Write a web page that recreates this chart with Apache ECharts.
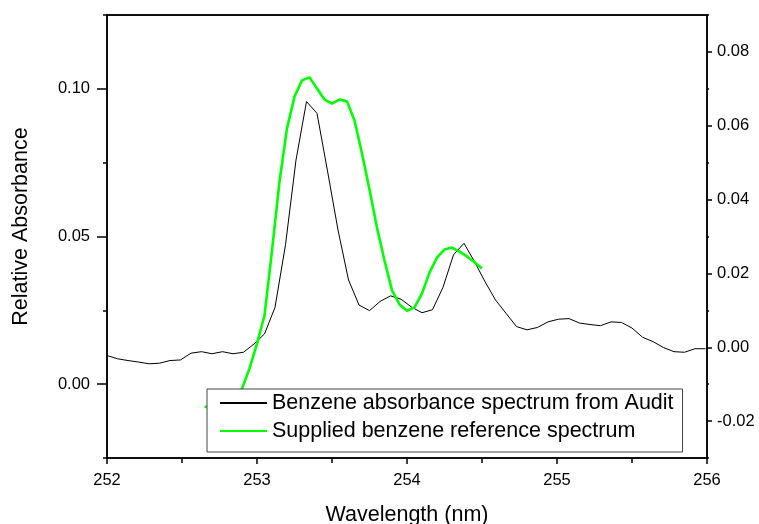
<!DOCTYPE html>
<html>
<head>
<meta charset="utf-8">
<script src="https://cdn.jsdelivr.net/npm/echarts@6.0.0/dist/echarts.min.js"></script>
<style>
  html, body { margin: 0; padding: 0; background: #fff; }
  #chart { width: 759px; height: 524px; }
</style>
</head>
<body>
<div id="chart"></div>
<script>
// Measured benzene spectrum (left axis, relative absorbance)
const auditWavelength = [
  252.00, 252.07, 252.14, 252.21, 252.28, 252.35, 252.42, 252.49, 252.56, 252.63,
  252.70, 252.77, 252.84, 252.91, 252.98, 253.05, 253.12, 253.19, 253.26, 253.33,
  253.40, 253.47, 253.54, 253.61, 253.68, 253.75, 253.82, 253.89, 253.96, 254.03,
  254.10, 254.17, 254.24, 254.31, 254.38, 254.45, 254.52, 254.59, 254.66, 254.73,
  254.80, 254.87, 254.94, 255.01, 255.08, 255.15, 255.22, 255.29, 255.36, 255.43,
  255.50, 255.57, 255.64, 255.71, 255.78, 255.85, 255.92, 255.99
];
const auditAbsorbance = [
  0.0097, 0.0086, 0.0080, 0.0075, 0.0069, 0.0071, 0.0080, 0.0082, 0.0105, 0.0110,
  0.0103, 0.0110, 0.0103, 0.0108, 0.0136, 0.0170, 0.0260, 0.0472, 0.0759, 0.0957,
  0.0917, 0.0722, 0.0522, 0.0353, 0.0268, 0.0249, 0.0280, 0.0299, 0.0288, 0.0261,
  0.0242, 0.0252, 0.0328, 0.0438, 0.0477, 0.0415, 0.0347, 0.0285, 0.0240, 0.0195,
  0.0184, 0.0192, 0.0211, 0.0220, 0.0222, 0.0207, 0.0202, 0.0198, 0.0211, 0.0209,
  0.0190, 0.0159, 0.0144, 0.0124, 0.0110, 0.0108, 0.0120, 0.0120
];

// Supplied reference spectrum (right axis)
const refWavelength = [
  252.65, 252.70, 252.75, 252.80, 252.85, 252.90, 252.95, 253.00, 253.05, 253.10,
  253.15, 253.20, 253.25, 253.30, 253.35, 253.40, 253.45, 253.50, 253.55, 253.60,
  253.65, 253.70, 253.75, 253.80, 253.85, 253.90, 253.95, 254.00, 254.05, 254.10,
  254.15, 254.20, 254.25, 254.30, 254.35, 254.40, 254.45, 254.50
];
const refAbsorbance = [
  -0.0161, -0.0163, -0.0161, -0.0150, -0.0134, -0.0112, -0.0058, 0.0010, 0.0086, 0.0262,
  0.0449, 0.0593, 0.0679, 0.0723, 0.0731, 0.0701, 0.0671, 0.0660, 0.0671, 0.0666,
  0.0614, 0.0525, 0.0427, 0.0324, 0.0235, 0.0154, 0.0116, 0.0099, 0.0108, 0.0146,
  0.0202, 0.0243, 0.0265, 0.0270, 0.0259, 0.0246, 0.0230, 0.0213
];

// Tick labels
const leftTickLabels = [0, 0.05, 0.10];
const rightTickLabels = [-0.02, 0, 0.02, 0.04, 0.06, 0.08];

const seriesNames = ['Benzene absorbance spectrum from Audit', 'Supplied benzene reference spectrum'];

const FONT = 'Liberation Sans, Arial, sans-serif';
const axisColor = '#000';
const fmt2 = v => v.toFixed(2);

const chart = echarts.init(document.getElementById('chart'), null, { renderer: 'canvas' });

chart.setOption({
  animation: false,
  backgroundColor: '#fff',
  textStyle: { fontFamily: FONT, color: '#000' },
  grid: {
    left: 107, right: 52, top: 15, bottom: 66,
    outerBoundsMode: 'none',
    containLabel: false,
    show: true, borderColor: axisColor, borderWidth: 1.5, backgroundColor: 'transparent'
  },
  legend: {
    data: seriesNames,
    orient: 'vertical',
    left: 207, top: 389,
    padding: [3, 9, 10, 12],
    itemWidth: 47, itemHeight: 14, itemGap: 6,
    backgroundColor: '#fff',
    borderColor: '#444', borderWidth: 1, borderRadius: 0,
    selectedMode: false,
    // line-only keys: hide the marker drawn in the middle of each key
    itemStyle: { opacity: 0 },
    textStyle: { fontSize: 21.5, color: '#000', fontFamily: FONT }
  },
  xAxis: [
    {
      type: 'value', min: 252, max: 256, interval: 1, position: 'bottom',
      axisLine: { show: true, onZero: false, lineStyle: { color: axisColor, width: 1.5 } },
      axisTick: { show: true, length: 6, lineStyle: { color: axisColor, width: 1.5 } },
      minorTick: { show: true, splitNumber: 2, length: 5, lineStyle: { color: axisColor, width: 1.5 } },
      splitLine: { show: false },
      axisLabel: { fontSize: 16.5, margin: 14, color: '#000', fontFamily: FONT },
      name: 'Wavelength (nm)', nameLocation: 'middle', nameGap: 46,
      nameTextStyle: { fontSize: 21.5, color: '#000', fontFamily: FONT }
    },
    {
      type: 'value', min: 252, max: 256, position: 'top',
      axisLine: { show: true, onZero: false, lineStyle: { color: axisColor, width: 1.5 } },
      axisTick: { show: false }, axisLabel: { show: false }, splitLine: { show: false }
    }
  ],
  yAxis: [
    {
      // left scale used by the measured spectrum, short ticks every 0.025
      type: 'value', position: 'left', min: -0.025, max: 0.125, interval: 0.025,
      axisLine: { show: true, onZero: false, lineStyle: { color: axisColor, width: 1.5 } },
      axisTick: { show: true, length: 4, lineStyle: { color: axisColor, width: 1.5 } },
      axisLabel: { show: false }, splitLine: { show: false }
    },
    {
      // left labels and long ticks
      type: 'value', position: 'left', min: -0.025, max: 0.125, interval: 0.025,
      axisLine: { show: false },
      axisTick: { show: true, length: 10, customValues: leftTickLabels, lineStyle: { color: axisColor, width: 1.5 } },
      axisLabel: { show: true, customValues: leftTickLabels, formatter: fmt2, fontSize: 16.5, margin: 17, color: '#000', fontFamily: FONT },
      splitLine: { show: false },
      name: 'Relative Absorbance', nameLocation: 'middle', nameGap: 75,
      nameTextStyle: { fontSize: 21.5, color: '#000', fontFamily: FONT, padding: [0, 0, 0, 20] }
    },
    {
      // right scale used by the reference spectrum, short ticks every 0.01
      type: 'value', position: 'right', min: -0.03, max: 0.09, interval: 0.01,
      axisLine: { show: true, onZero: false, lineStyle: { color: axisColor, width: 1.5 } },
      axisTick: { show: true, length: 2, lineStyle: { color: axisColor, width: 1.5 } },
      axisLabel: { show: false }, splitLine: { show: false }
    },
    {
      // right labels and their ticks
      type: 'value', position: 'right', min: -0.03, max: 0.09, interval: 0.01,
      axisLine: { show: false },
      axisTick: { show: true, length: 5, customValues: rightTickLabels, lineStyle: { color: axisColor, width: 1.5 } },
      axisLabel: { show: true, customValues: rightTickLabels, formatter: fmt2, fontSize: 16.5, margin: 10, color: '#000', fontFamily: FONT },
      splitLine: { show: false }
    }
  ],
  series: [
    {
      name: seriesNames[0], type: 'line', xAxisIndex: 0, yAxisIndex: 0,
      data: auditWavelength.map((w, i) => [w, auditAbsorbance[i]]),
      symbol: 'none', smooth: false,
      lineStyle: { color: '#000', width: 1 },
      itemStyle: { color: '#000' }
    },
    {
      name: seriesNames[1], type: 'line', xAxisIndex: 0, yAxisIndex: 2,
      data: refWavelength.map((w, i) => [w, refAbsorbance[i]]),
      symbol: 'none', smooth: false,
      lineStyle: { color: '#00ff00', width: 2.6 },
      itemStyle: { color: '#00ff00' }
    }
  ]
});
</script>
</body>
</html>
